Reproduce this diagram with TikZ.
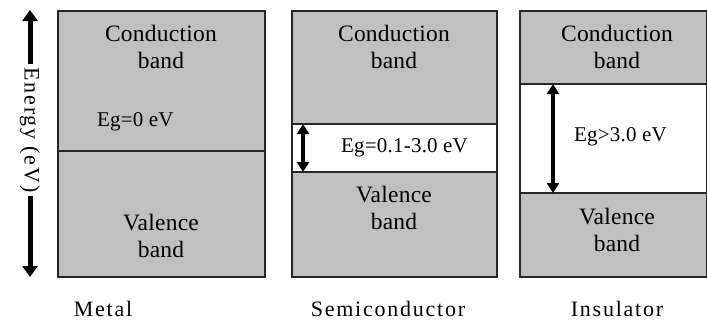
\documentclass[tikz,border=0pt]{standalone}
\usepackage{fontspec}
\setmainfont{Liberation Serif}
\newfontfamily\lblfont[LetterSpace=1]{Liberation Serif}
\newfontfamily\widefont[LetterSpace=8]{Liberation Serif}
\usetikzlibrary{arrows.meta}
\definecolor{bandgray}{RGB}{192,192,190}
\tikzset{
  band/.style={fill=bandgray, draw=black!85, line width=1.3pt},
  gap/.style={fill=white, draw=black!85, line width=1.3pt},
  lbl/.style={font=\lblfont\fontsize{23.5}{27}\selectfont, align=center, inner sep=0pt},
  wlbl/.style={font=\widefont\fontsize{22}{24}\selectfont, align=center, inner sep=0pt},
  elbl/.style={font=\lblfont\fontsize{21}{22}\selectfont, inner sep=0pt},
  garrow/.style={line width=3.2pt, {Triangle[length=10pt,width=12pt]}-{Triangle[length=10pt,width=12pt]}},
  earrow/.style={line width=5pt, -{Triangle[length=11pt,width=15pt]}}
}
\begin{document}
\begin{tikzpicture}[x=1pt,y=-1pt]
\useasboundingbox (0,0) rectangle (707,322);
% Metal
\path[band] (58,11) rectangle (265,151);
\path[band] (58,151) rectangle (265,277);
% Semiconductor
\path[band] (292,11) rectangle (497,124);
\path[gap] (292,124) rectangle (497,172);
\path[band] (292,172) rectangle (497,277);
% Insulator
\path[band] (520,11) rectangle (706.3,84);
\path[gap] (520,84) rectangle (706.3,193);
\path[band] (520,193) rectangle (706.3,277);
% Energy axis
\node[wlbl, rotate=-90, inner sep=3pt] (energy) at (30,130) {Energy (eV)};
\coordinate (etop) at (30,10);
\coordinate (ebot) at (30,277);
\draw[earrow] (energy.west) -- (etop);
\draw[earrow] (energy.east) -- (ebot);
% Metal labels
\node[lbl] (mc) at (161,47) {Conduction\\band};
\node[elbl, anchor=west] (meg) at (97,122) {Eg=0 eV};
\node[lbl] (mv) at (161,236) {Valence\\band};
% Semiconductor labels
\node[lbl] (sc) at (394,47) {Conduction\\band};
\coordinate (stop) at (303,124);
\coordinate (sbot) at (303,172);
\draw[garrow] (stop) -- (sbot);
\node[elbl, anchor=west] (seg) at (341,148) {Eg=0.1-3.0 eV};
\node[lbl] (sv) at (394,208) {Valence\\band};
% Insulator labels
\node[lbl] (ic) at (617,47) {Conduction\\band};
\coordinate (itop) at (553,84);
\coordinate (ibot) at (553,193);
\draw[garrow] (itop) -- (ibot);
\node[elbl, anchor=west] (ieg) at (574,137) {Eg>3.0 eV};
\node[lbl] (iv) at (617,230) {Valence\\band};
% Bottom labels
\node[wlbl] (metal) at (103,309) {Metal};
\node[wlbl] (semi) at (388,309) {Semiconductor};
\node[wlbl] (ins) at (617,309) {Insulator};
\end{tikzpicture}
\end{document}
